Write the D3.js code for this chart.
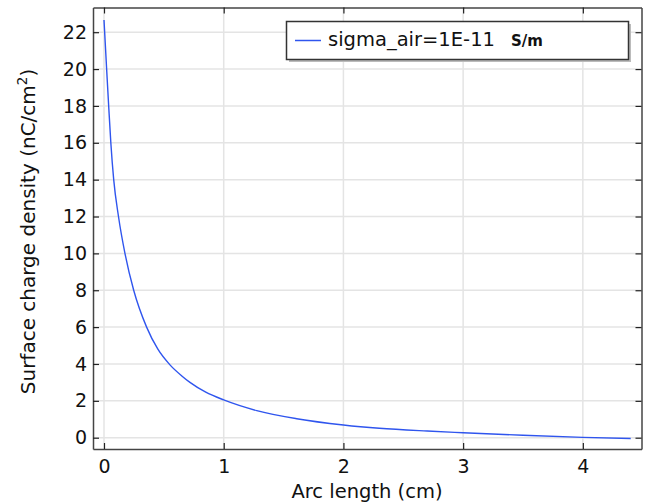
<!DOCTYPE html>
<html><head><meta charset="utf-8">
<script src="https://cdn.jsdelivr.net/npm/d3@7"></script>
<style>body{margin:0;background:#fff}svg{display:block}text{font-family:"DejaVu Sans",sans-serif;fill:#111}</style>
</head><body><svg id="c" width="651" height="502"></svg>
<script>
const arcLength = [0, 0.022, 0.039, 0.057, 0.081, 0.121, 0.175, 0.248, 0.356, 0.45, 0.551, 0.65, 0.718, 0.85, 1.0, 1.276, 1.61, 2.0, 2.3, 2.7, 3.0, 3.5, 4.0, 4.4];
const chargeDensity = [22.66, 20, 18, 16, 14, 12, 10, 8, 6, 4.8, 3.95, 3.35, 3.0, 2.47, 2.05, 1.47, 1.03, 0.69, 0.51, 0.36, 0.27, 0.13, 0.02, -0.04];
const xTicks = [0, 1, 2, 3, 4];
const yTicks = [0, 2, 4, 6, 8, 10, 12, 14, 16, 18, 20, 22];
const seriesName = "sigma_air=1E-11";
const unitLabel = "S/m";
const xTitle = "Arc length (cm)";

const L = 93, R = 641.5, T = 7.5, B = 449;
const svg = d3.select("#c");
const x = d3.scaleLinear().domain([-0.0919, 4.49]).range([L, R]);
const y = d3.scaleLinear().domain([-0.613, 23.34]).range([B, T]);

// grid
svg.append("g").selectAll("line").data(xTicks).join("line")
  .attr("x1", d => x(d)).attr("x2", d => x(d)).attr("y1", T).attr("y2", B)
  .attr("stroke", "#e4e4e4").attr("stroke-width", 1.5);
svg.append("g").selectAll("line").data(yTicks).join("line")
  .attr("y1", d => y(d)).attr("y2", d => y(d)).attr("x1", L).attr("x2", R)
  .attr("stroke", "#e4e4e4").attr("stroke-width", 1.5);

// curve
const pts = arcLength.map((a, i) => [a, chargeDensity[i]]);
svg.append("path").datum(pts)
  .attr("fill", "none").attr("stroke", "#2f55ee").attr("stroke-width", 1.4)
  .attr("d", d3.line().x(d => x(d[0])).y(d => y(d[1])).curve(d3.curveMonotoneX));

// axes with inward ticks
function styleAxis(g) {
  g.select(".domain").attr("stroke", "#444").attr("stroke-width", 1.5);
  g.selectAll(".tick line").attr("stroke", "#222").attr("stroke-width", 1.2);
  g.selectAll(".tick text").style("font-size", "19px").attr("fill", "#111");
}
const xb = svg.append("g").attr("transform", `translate(0,${B})`)
  .call(d3.axisBottom(x).tickValues(xTicks).tickSizeInner(-6).tickSizeOuter(0).tickPadding(11).tickFormat(d3.format("d")));
styleAxis(xb);
const xt = svg.append("g").attr("transform", `translate(0,${T})`)
  .call(d3.axisTop(x).tickValues(xTicks).tickSizeInner(-6).tickSizeOuter(0).tickFormat(""));
styleAxis(xt);
const yl = svg.append("g").attr("transform", `translate(${L},0)`)
  .call(d3.axisLeft(y).tickValues(yTicks).tickSizeInner(-6).tickSizeOuter(0).tickPadding(6).tickFormat(d3.format("d")));
styleAxis(yl);
const yr = svg.append("g").attr("transform", `translate(${R},0)`)
  .call(d3.axisRight(y).tickValues(yTicks).tickSizeInner(-6).tickSizeOuter(0).tickFormat(""));
styleAxis(yr);

// titles
svg.append("text").attr("x", 367).attr("y", 498).attr("text-anchor", "middle")
  .style("font-size", "19.5px").text(xTitle);
const yt = svg.append("text").attr("transform", `translate(35,231.5) rotate(-90)`)
  .attr("text-anchor", "middle").style("font-size", "20px");
yt.append("tspan").text("Surface charge density (nC/cm");
yt.append("tspan").attr("dy", -8).style("font-size", "13.5px").text("2");
yt.append("tspan").attr("dy", 8).text(")");

// legend
const lg = svg.append("g");
lg.append("rect").attr("x", 289).attr("y", 24).attr("width", 342).attr("height", 38).attr("fill", "#bbb");
lg.append("rect").attr("x", 286.5).attr("y", 21.5).attr("width", 342).attr("height", 38)
  .attr("fill", "#fff").attr("stroke", "#333").attr("stroke-width", 1.5);
lg.append("line").attr("x1", 295).attr("x2", 321).attr("y1", 40.5).attr("y2", 40.5)
  .attr("stroke", "#2f55ee").attr("stroke-width", 1.5);
const lt = lg.append("text").attr("x", 328).attr("y", 46).style("font-size", "19.5px");
lt.append("tspan").text(seriesName);
lt.append("tspan").attr("x", 511).style("font-size", "15px").style("font-weight", "bold").text(unitLabel);
</script></body></html>
